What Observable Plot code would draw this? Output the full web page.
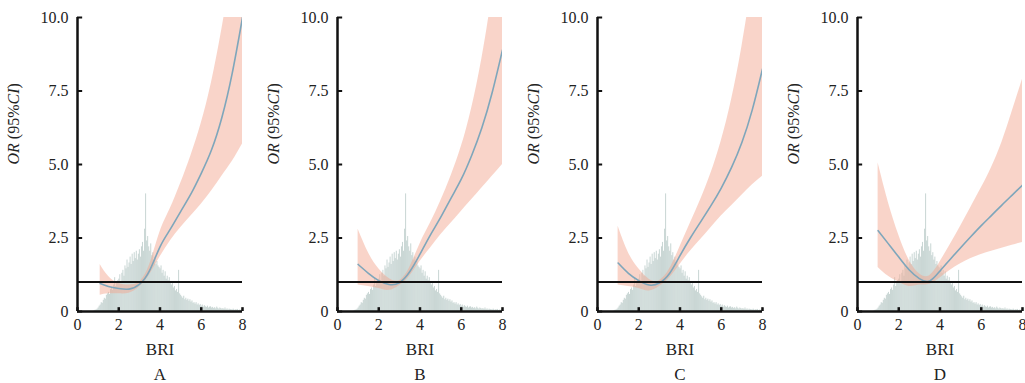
<!DOCTYPE html>
<html>
<head>
<meta charset="utf-8">
<script src="https://cdn.jsdelivr.net/npm/d3@7"></script>
<script src="https://cdn.jsdelivr.net/npm/@observablehq/plot@0.6"></script>
<style>
  html, body { margin: 0; padding: 0; background: #fff; }
  #wrap { display: flex; width: 1025px; height: 383px; }
</style>
</head>
<body>
<div id="wrap"></div>
<script>
// ---- data ----
const panelLabels = ["A", "B", "C", "D"];
const xTicks = [0, 2, 4, 6, 8];
const yTicks = [0, 2.5, 5, 7.5, 10];

// histogram of BRI (bin starts at 0.80, width 0.05), height in y-axis units
const histStart = 0.8;
const histWidth = 0.05;
const histValues = [
  0.02,0.04,0.05,0.08,
  0.12,0.18,0.22,0.30,0.28,0.38,0.45,0.42,0.55,0.60,
  0.65,0.58,0.75,0.80,0.72,0.90,1.15,0.85,1.00,1.05,
  1.10,1.25,0.95,1.30,1.40,1.20,1.55,1.45,1.75,1.50,
  1.65,1.85,1.60,1.95,1.70,2.00,1.80,2.05,1.75,1.95,
  2.10,1.85,2.20,2.35,2.05,2.80,4.00,2.40,2.55,2.20,
  2.05,2.30,1.90,2.00,1.75,1.85,1.60,1.70,1.55,1.50,
  1.45,1.55,1.30,1.40,1.20,1.35,1.10,1.20,1.05,1.15,
  1.00,0.90,0.95,0.80,0.85,0.70,0.75,0.65,1.40,0.60,
  0.55,0.50,0.45,0.52,0.40,0.45,0.38,0.42,0.35,0.40,
  0.32,0.36,0.28,0.30,0.25,0.30,0.22,0.26,0.20,0.24,
  0.18,0.22,0.15,0.20,0.16,0.14,0.18,0.12,0.15,0.16,
  0.12,0.14,0.10,0.13,0.09,0.15,0.11,0.08,0.12,0.10,
  0.08,0.10,0.07,0.12,0.06,0.09,0.05,0.08,0.07,0.06,
  0.05,0.08,0.04,0.06,0.05,0.07,0.03,0.05,0.04,0.06
];

// spline OR curves with 95% CI
const briA = [1.1, 1.5, 2.0, 2.5, 3.0, 3.5, 4.0, 4.5, 5.0, 5.5, 6.0, 6.5, 7.0, 7.5, 8.0];
const briBCD = [1.0, 1.5, 2.0, 2.5, 3.0, 3.5, 4.0, 4.5, 5.0, 5.5, 6.0, 6.5, 7.0, 7.5, 8.0];

const orA    = [0.95, 0.85, 0.78, 0.76, 0.92, 1.4, 2.2, 2.8, 3.4, 4.0, 4.7, 5.5, 6.6, 8.1, 10.0];
const upperA = [1.6, 1.2, 0.95, 0.9, 1.0, 1.6, 2.7, 3.5, 4.35, 5.3, 6.4, 7.8, 9.6, 11.8, 14.5];
const lowerA = [0.55, 0.6, 0.6, 0.62, 0.83, 1.25, 1.85, 2.4, 2.85, 3.25, 3.65, 4.1, 4.6, 5.1, 5.7];

const orB    = [1.6, 1.3, 1.05, 0.92, 0.98, 1.35, 1.95, 2.6, 3.2, 3.85, 4.5, 5.3, 6.25, 7.45, 8.9];
const upperB = [2.8, 2.0, 1.45, 1.12, 1.05, 1.5, 2.3, 3.0, 3.75, 4.6, 5.6, 6.9, 8.6, 10.8, 13.5];
const lowerB = [0.9, 0.85, 0.78, 0.72, 0.88, 1.2, 1.7, 2.15, 2.6, 3.0, 3.4, 3.8, 4.2, 4.6, 5.0];

const orC    = [1.65, 1.3, 1.05, 0.9, 0.97, 1.3, 1.9, 2.5, 3.05, 3.6, 4.2, 4.9, 5.75, 6.85, 8.25];
const upperC = [2.9, 2.0, 1.45, 1.1, 1.05, 1.45, 2.2, 3.0, 3.8, 4.7, 5.8, 7.2, 9.0, 11.3, 14.2];
const lowerC = [0.9, 0.85, 0.78, 0.7, 0.85, 1.15, 1.6, 2.05, 2.45, 2.85, 3.25, 3.6, 3.95, 4.3, 4.6];

const orD    = [2.75, 2.3, 1.85, 1.42, 1.12, 1.04, 1.38, 1.78, 2.17, 2.55, 2.92, 3.27, 3.62, 3.96, 4.3];
const upperD = [5.05, 3.7, 2.6, 1.75, 1.28, 1.22, 1.68, 2.28, 2.9, 3.55, 4.2, 4.9, 5.75, 6.8, 7.9];
const lowerD = [1.5, 1.2, 1.0, 0.85, 0.9, 0.93, 1.14, 1.4, 1.62, 1.8, 1.94, 2.05, 2.15, 2.25, 2.35];

const refOR = 1;

// ---- build ----
const FONT = "'Liberation Serif', 'Times New Roman', serif";
const hist = histValues.map((v, i) => ({
  x1: histStart + i * histWidth,
  x2: histStart + (i + 1) * histWidth,
  v
}));

const panels = [
  {label: panelLabels[0], x: briA,   or: orA, lo: lowerA, hi: upperA},
  {label: panelLabels[1], x: briBCD, or: orB, lo: lowerB, hi: upperB},
  {label: panelLabels[2], x: briBCD, or: orC, lo: lowerC, hi: upperC},
  {label: panelLabels[3], x: briBCD, or: orD, lo: lowerD, hi: upperD}
];

const fmtY = d => d === 0 ? "0" : d.toFixed(1);
const wrap = document.getElementById("wrap");

panels.forEach((p, idx) => {
  const rows = p.x.map((x, i) => ({x, or: p.or[i], lo: p.lo[i], hi: p.hi[i]}));
  const last = idx === panels.length - 1;
  const svg = Plot.plot({
    width: last ? 245 : 260,
    height: 383,
    marginLeft: 77,
    marginRight: last ? 3 : 18,
    marginTop: 17,
    marginBottom: 72,
    style: {fontSize: "16px", color: "#222", background: "#fff", overflow: "visible"},
    x: {domain: [0, 8], axis: null},
    y: {domain: [0, 10], axis: null},
    marks: [
      Plot.rectY(hist, {x1: "x1", x2: "x2", y: "v", fill: "#b4c6c3", fillOpacity: 0.7}),
      Plot.areaY(rows, {x: "x", y1: "lo", y2: "hi", fill: "#f2a58f", fillOpacity: 0.48, curve: "natural", clip: true}),
      Plot.lineY(rows, {x: "x", y: "or", stroke: "#7ea6bb", strokeWidth: 1.6, curve: "natural", clip: true}),
      Plot.ruleY([refOR], {x1: 0, x2: 8, stroke: "#111", strokeWidth: 2}),
      Plot.axisY({ticks: yTicks, tickSize: 0, tickPadding: 9, tickFormat: fmtY, fontSize: 16, label: null}),
      Plot.axisX({ticks: xTicks, tickSize: 0, tickPadding: 7, tickFormat: d => String(d), fontSize: 16, label: null}),
      Plot.ruleY(yTicks, {y: d => d, x1: 0, x2: 0.25, stroke: "#111", strokeWidth: 2}),
      Plot.ruleX(xTicks, {x: d => d, y1: 0, y2: 0.13, stroke: "#111", strokeWidth: 2.5}),
      Plot.ruleX([0], {y1: 0, y2: 10, stroke: "#111", strokeWidth: 2.5}),
      Plot.ruleY([0], {x1: 0, x2: 8, stroke: "#111", strokeWidth: 2.5}),
      Plot.text(["BRI"], {frameAnchor: "bottom", dy: 38, lineAnchor: "middle", fontSize: 17, fill: "#222"}),
      Plot.text([p.label], {frameAnchor: "bottom", dy: 63, lineAnchor: "middle", fontSize: 17, fill: "#222"}),
      Plot.text(["OR (95%CI)"], {frameAnchor: "left", dx: -64, rotate: -90, lineAnchor: "middle", fontSize: 16, fill: "#222"})
    ]
  });
  // serif typeface on every text
  const s = d3.select(svg);
  s.attr("font-family", FONT).style("font-family", FONT);
  s.selectAll("g").attr("font-family", null);
  s.selectAll("text").style("font-family", FONT);
  // italicise OR and CI in the y-axis title
  s.selectAll("text").filter(function() { return this.textContent === "OR (95%CI)"; })
    .each(function() {
      const t = d3.select(this);
      t.text(null);
      t.append("tspan").attr("font-style", "italic").text("OR");
      t.append("tspan").text(" (95%");
      t.append("tspan").attr("font-style", "italic").text("CI");
      t.append("tspan").text(")");
    });
  wrap.appendChild(svg);
});
</script>
</body>
</html>
